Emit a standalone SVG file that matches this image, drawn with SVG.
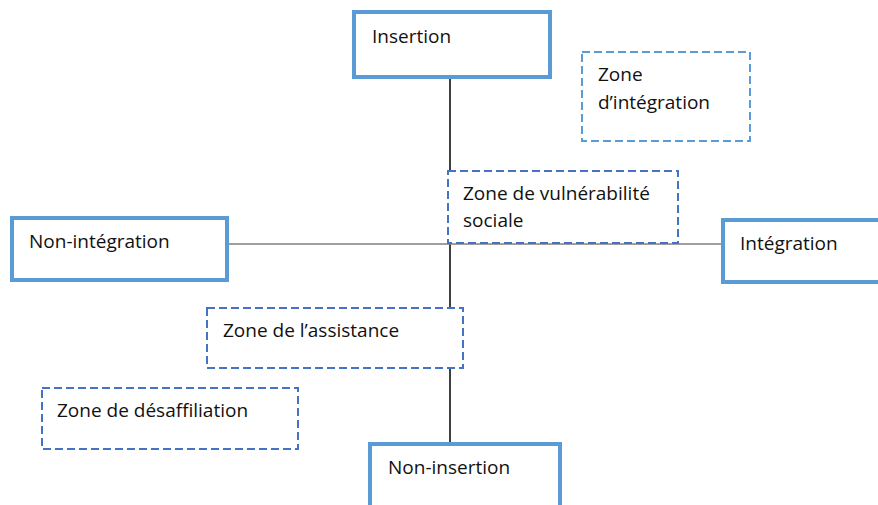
<svg xmlns="http://www.w3.org/2000/svg" width="878" height="505" viewBox="0 0 878 505">
<style>
.solid{fill:#fff;stroke:#5B9BD5;stroke-width:4}
.dash{fill:#fff;stroke:#4472C4;stroke-width:2;stroke-dasharray:8 4}
.dashl{fill:#fff;stroke:#5B9BD5;stroke-width:2;stroke-dasharray:8 4}
text{font-family:"Open Sans","Liberation Sans",sans-serif;font-size:19px;fill:#111}
</style>
<rect width="878" height="505" fill="#fff"/>
<g id="connectors">
<line x1="450" y1="79" x2="450" y2="442" stroke="#000" stroke-width="1.5"/>
<line x1="229" y1="244" x2="721" y2="244" stroke="#7F7F7F" stroke-width="1.5"/>
</g>
<g id="insertion"><rect class="solid" x="354" y="12" width="196" height="65"/><text x="372" y="43">Insertion</text></g>
<g id="zone-integration"><rect class="dashl" x="582" y="52" width="168" height="89"/><text x="598" y="81">Zone</text><text x="598" y="109">d’intégration</text></g>
<g id="zone-vulnerabilite"><rect class="dash" x="448" y="171" width="230" height="72"/><text x="463" y="200">Zone de vulnérabilité</text><text x="463" y="227">sociale</text></g>
<g id="non-integration"><rect class="solid" x="12" y="218" width="215" height="62"/><text x="29" y="248">Non-intégration</text></g>
<g id="integration"><rect class="solid" x="723" y="220" width="160" height="62"/><text x="740" y="250">Intégration</text></g>
<g id="zone-assistance"><rect class="dash" x="207" y="308" width="256" height="60"/><text x="223" y="337">Zone de l’assistance</text></g>
<g id="zone-desaffiliation"><rect class="dash" x="42" y="388" width="256" height="61"/><text x="57" y="417">Zone de désaffiliation</text></g>
<g id="non-insertion"><rect class="solid" x="370" y="444" width="190" height="70"/><text x="388" y="474">Non-insertion</text></g>
</svg>
